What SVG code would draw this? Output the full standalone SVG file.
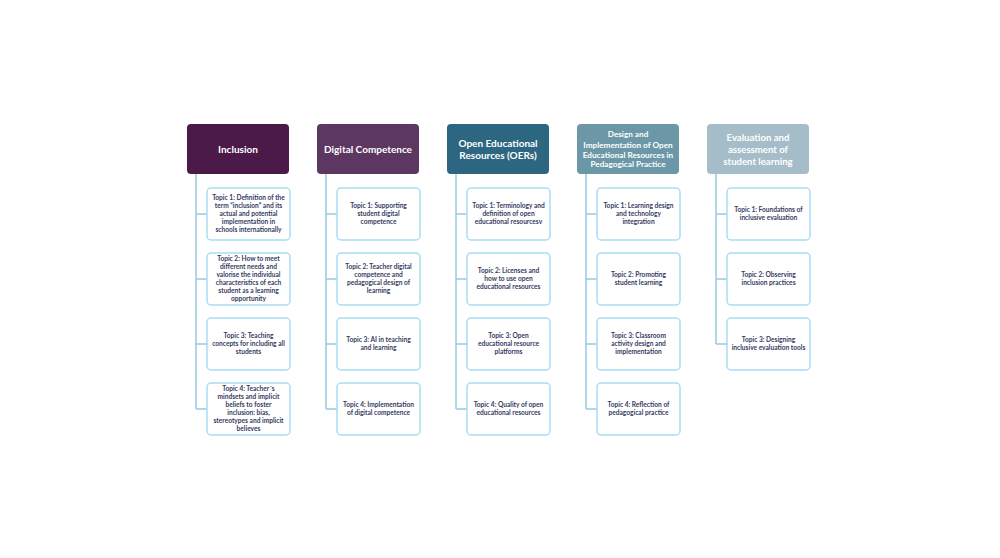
<svg xmlns="http://www.w3.org/2000/svg" width="1000" height="558" viewBox="0 0 1000 558">
<style>
.hd{stroke:none}
.ht{font-family:Lato,"Open Sans",sans-serif;font-weight:700;fill:#ffffff;text-anchor:middle}
.tb{fill:#ffffff;stroke:#a9dcf5;stroke-width:1.5}
.tt{font-family:Lato,"Open Sans",sans-serif;font-weight:700;font-size:6.6px;fill:#353b62;text-anchor:middle}
.cn{stroke:#98c9df;stroke-width:1.5;fill:none}
</style>
<rect width="1000" height="558" fill="#ffffff"/>
<g id="connectors">
<path class="cn" d="M196 174V409M196 214H207M196 279H207M196 344H207M196 409H207"/>
<path class="cn" d="M326 174V409M326 214H337M326 279H337M326 344H337M326 409H337"/>
<path class="cn" d="M456 174V409M456 214H467M456 279H467M456 344H467M456 409H467"/>
<path class="cn" d="M586 174V409M586 214H597M586 279H597M586 344H597M586 409H597"/>
<path class="cn" d="M716 174V344M716 214H727M716 279H727M716 344H727"/>
</g>
<g id="h1"><rect class="hd" x="187" y="124" width="102" height="50" rx="4" fill="#4b1a49"/><text class="ht" x="238" y="152.5" font-size="10">Inclusion</text></g>
<g id="h2"><rect class="hd" x="317" y="124" width="102" height="50" rx="4" fill="#5c3761"/><text class="ht" x="368" y="152.5" font-size="10">Digital Competence</text></g>
<g id="h3"><rect class="hd" x="447" y="124" width="102" height="50" rx="4" fill="#2c6680"/><text class="ht" x="498" font-size="10"><tspan x="498" y="146.5">Open Educational</tspan><tspan x="498" y="158.5">Resources (OERs)</tspan></text></g>
<g id="h4"><rect class="hd" x="577" y="124" width="102" height="50" rx="4" fill="#6b97a7"/><text class="ht" x="628" font-size="8.2"><tspan x="628" y="137">Design and</tspan><tspan x="628" y="147.5">Implementation of Open</tspan><tspan x="628" y="157.5">Educational Resources in</tspan><tspan x="628" y="167">Pedagogical Practice</tspan></text></g>
<g id="h5"><rect class="hd" x="707" y="124" width="102" height="50" rx="4" fill="#a4bdc8"/><text class="ht" x="758" font-size="9.6" font-weight="400"><tspan x="758" y="140.5">Evaluation and</tspan><tspan x="758" y="152.5">assessment of</tspan><tspan x="758" y="164.5">student learning</tspan></text></g>

<g id="t1-1"><rect class="tb" x="207" y="188" width="83" height="52" rx="4"/><text class="tt"><tspan x="248.5" y="200.3">Topic 1: Definition of the</tspan><tspan x="248.5" y="208.3">term “inclusion” and its</tspan><tspan x="248.5" y="216.3">actual and potential</tspan><tspan x="248.5" y="224.3">implementation in</tspan><tspan x="248.5" y="232.3">schools internationally</tspan></text></g>
<g id="t1-2"><rect class="tb" x="207" y="253" width="83" height="52" rx="4"/><text class="tt"><tspan x="248.5" y="261.3">Topic 2: How to meet</tspan><tspan x="248.5" y="269.3">different needs and</tspan><tspan x="248.5" y="277.3">valorise the individual</tspan><tspan x="248.5" y="285.3">characteristics of each</tspan><tspan x="248.5" y="293.3">student as a learning</tspan><tspan x="248.5" y="301.3">opportunity</tspan></text></g>
<g id="t1-3"><rect class="tb" x="207" y="318" width="83" height="52" rx="4"/><text class="tt"><tspan x="248.5" y="338.3">Topic 3: Teaching</tspan><tspan x="248.5" y="346.3">concepts for including all</tspan><tspan x="248.5" y="354.3">students</tspan></text></g>
<g id="t1-4"><rect class="tb" x="207" y="383" width="83" height="52" rx="4"/><text class="tt"><tspan x="248.5" y="391.3">Topic 4: Teacher´s</tspan><tspan x="248.5" y="399.3">mindsets and implicit</tspan><tspan x="248.5" y="407.3">beliefs to foster</tspan><tspan x="248.5" y="415.3">inclusion: bias,</tspan><tspan x="248.5" y="423.3">stereotypes and implicit</tspan><tspan x="248.5" y="431.3">believes</tspan></text></g>

<g id="t2-1"><rect class="tb" x="337" y="188" width="83" height="52" rx="4"/><text class="tt"><tspan x="378.5" y="208.3">Topic 1: Supporting</tspan><tspan x="378.5" y="216.3">student digital</tspan><tspan x="378.5" y="224.3">competence</tspan></text></g>
<g id="t2-2"><rect class="tb" x="337" y="253" width="83" height="52" rx="4"/><text class="tt"><tspan x="378.5" y="269.3">Topic 2: Teacher digital</tspan><tspan x="378.5" y="277.3">competence and</tspan><tspan x="378.5" y="285.3">pedagogical design of</tspan><tspan x="378.5" y="293.3">learning</tspan></text></g>
<g id="t2-3"><rect class="tb" x="337" y="318" width="83" height="52" rx="4"/><text class="tt"><tspan x="378.5" y="342.3">Topic 3: AI in teaching</tspan><tspan x="378.5" y="350.3">and learning</tspan></text></g>
<g id="t2-4"><rect class="tb" x="337" y="383" width="83" height="52" rx="4"/><text class="tt"><tspan x="378.5" y="407.3">Topic 4: Implementation</tspan><tspan x="378.5" y="415.3">of digital competence</tspan></text></g>

<g id="t3-1"><rect class="tb" x="467" y="188" width="83" height="52" rx="4"/><text class="tt"><tspan x="508.5" y="208.3">Topic 1: Terminology and</tspan><tspan x="508.5" y="216.3">definition of open</tspan><tspan x="508.5" y="224.3">educational resourcesv</tspan></text></g>
<g id="t3-2"><rect class="tb" x="467" y="253" width="83" height="52" rx="4"/><text class="tt"><tspan x="508.5" y="273.3">Topic 2: Licenses and</tspan><tspan x="508.5" y="281.3">how to use open</tspan><tspan x="508.5" y="289.3">educational resources</tspan></text></g>
<g id="t3-3"><rect class="tb" x="467" y="318" width="83" height="52" rx="4"/><text class="tt"><tspan x="508.5" y="338.3">Topic 3: Open</tspan><tspan x="508.5" y="346.3">educational resource</tspan><tspan x="508.5" y="354.3">platforms</tspan></text></g>
<g id="t3-4"><rect class="tb" x="467" y="383" width="83" height="52" rx="4"/><text class="tt"><tspan x="508.5" y="407.3">Topic 4: Quality of open</tspan><tspan x="508.5" y="415.3">educational resources</tspan></text></g>

<g id="t4-1"><rect class="tb" x="597" y="188" width="83" height="52" rx="4"/><text class="tt"><tspan x="638.5" y="208.3">Topic 1: Learning design</tspan><tspan x="638.5" y="216.3">and technology</tspan><tspan x="638.5" y="224.3">integration</tspan></text></g>
<g id="t4-2"><rect class="tb" x="597" y="253" width="83" height="52" rx="4"/><text class="tt"><tspan x="638.5" y="277.3">Topic 2: Promoting</tspan><tspan x="638.5" y="285.3">student learning</tspan></text></g>
<g id="t4-3"><rect class="tb" x="597" y="318" width="83" height="52" rx="4"/><text class="tt"><tspan x="638.5" y="338.3">Topic 3: Classroom</tspan><tspan x="638.5" y="346.3">activity design and</tspan><tspan x="638.5" y="354.3">implementation</tspan></text></g>
<g id="t4-4"><rect class="tb" x="597" y="383" width="83" height="52" rx="4"/><text class="tt"><tspan x="638.5" y="407.3">Topic 4: Reflection of</tspan><tspan x="638.5" y="415.3">pedagogical practice</tspan></text></g>

<g id="t5-1"><rect class="tb" x="727" y="188" width="83" height="52" rx="4"/><text class="tt"><tspan x="768.5" y="212.3">Topic 1: Foundations of</tspan><tspan x="768.5" y="220.3">inclusive evaluation</tspan></text></g>
<g id="t5-2"><rect class="tb" x="727" y="253" width="83" height="52" rx="4"/><text class="tt"><tspan x="768.5" y="277.3">Topic 2: Observing</tspan><tspan x="768.5" y="285.3">inclusion practices</tspan></text></g>
<g id="t5-3"><rect class="tb" x="727" y="318" width="83" height="52" rx="4"/><text class="tt"><tspan x="768.5" y="342.3">Topic 3: Designing</tspan><tspan x="768.5" y="350.3">inclusive evaluation tools</tspan></text></g>
</svg>
